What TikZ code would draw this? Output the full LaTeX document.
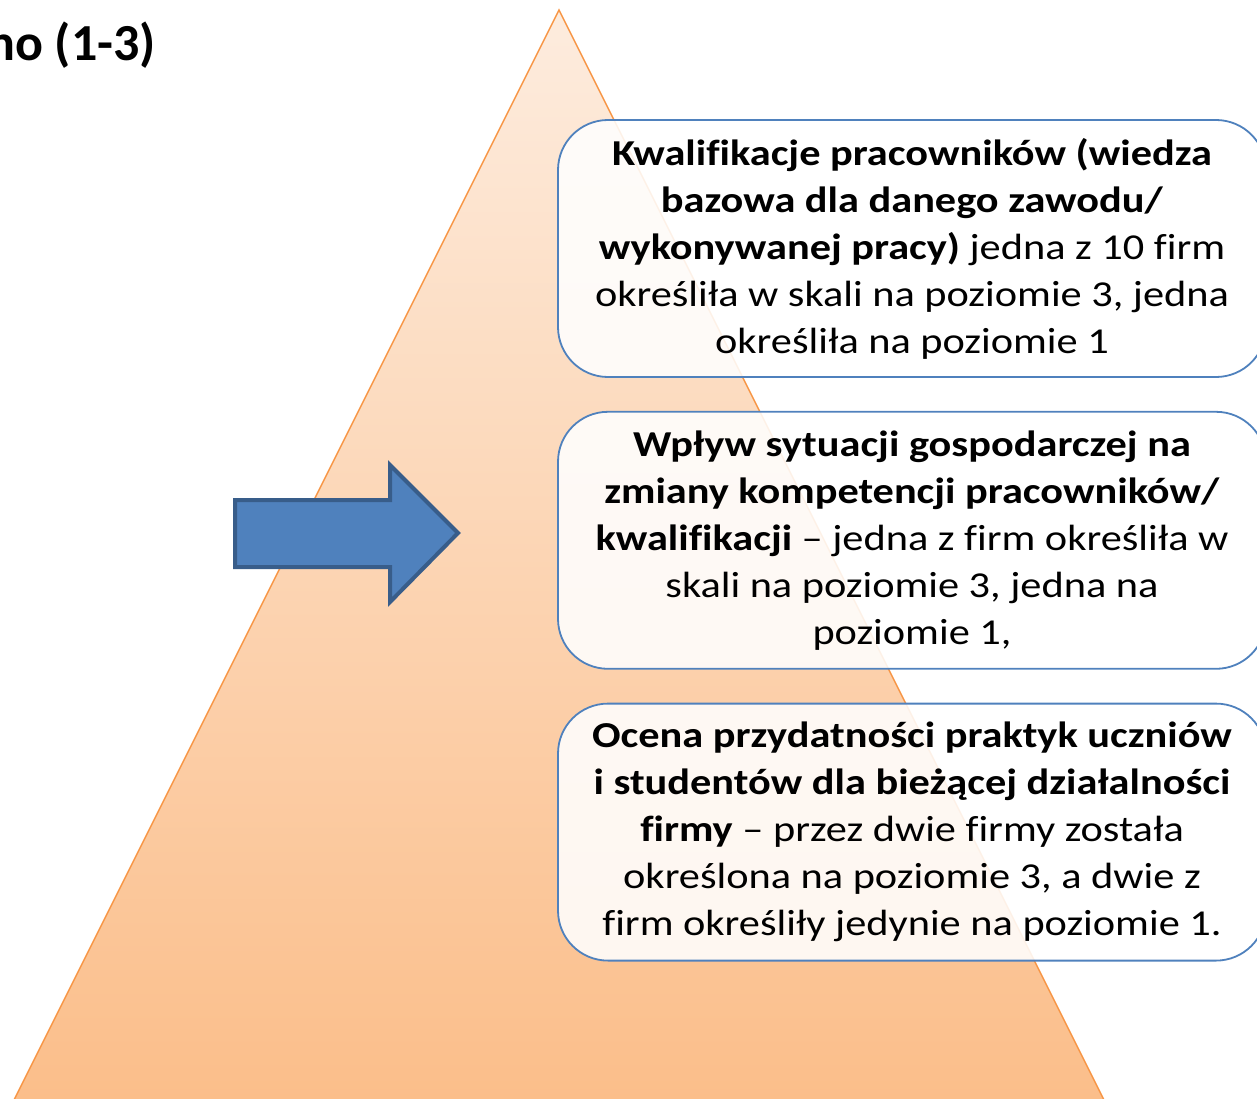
\documentclass[tikz,border=0pt]{standalone}
\usepackage{fontspec}
\setmainfont{Carlito}[FakeStretch=1.16, Ligatures=CommonOff]
\newfontfamily\titlefont{Carlito}
\usetikzlibrary{positioning}

\definecolor{pyrline}{RGB}{247,150,70}
\definecolor{pyrtop}{RGB}{253,236,222}
\definecolor{pyrbottom}{RGB}{251,190,138}
\definecolor{boxline}{RGB}{79,129,189}
\definecolor{arrowfill}{RGB}{79,129,189}
\definecolor{arrowline}{RGB}{56,93,138}

\begin{document}
\begin{tikzpicture}
        [
            x=1pt, y=-1pt,
            pyramid/.style={draw=pyrline, line width=1.5pt, top color=pyrtop, bottom color=pyrbottom},
            infobox/.style={draw=boxline, line width=1.8pt, fill=white, fill opacity=0.87, text opacity=1,
                rounded corners=50pt, minimum width=708pt, minimum height=257pt, inner sep=0pt,
                align=center, font=\fontsize{36.5}{47}\selectfont},
            bigarrow/.style={draw=arrowline, line width=4pt, fill=arrowfill, line join=miter},
            title/.style={font=\titlefont\bfseries\fontsize{52}{60}\selectfont, inner sep=0pt},
        ]
        \useasboundingbox (0,0) rectangle (1257,1099);
        \clip (0,0) rectangle (1257,1099);

        % pyramid
        \draw[pyramid] (559,10) -- (1104,1100) -- (14,1100) -- cycle;

        % title (cut off at the left)
        \node[title, anchor=base east] (title) at (156,61) {no (1-3)};

        % arrow
        \draw[bigarrow] (235,500) -- (390,500) -- (390,465) -- (458,533)
            -- (390,602) -- (390,567) -- (235,567) -- cycle;

        % boxes
        \node[infobox] (kwal) at (912,248.5)
            {\textbf{Kwalifikacje pracowników (wiedza}\\
             \textbf{bazowa dla danego zawodu/}\\
             \textbf{wykonywanej pracy)} jedna z 10 firm\\
             określiła w skali na poziomie 3, jedna\\
             określiła na poziomie 1};
        \node[infobox, below=33pt of kwal] (wplyw)
            {\textbf{Wpływ sytuacji gospodarczej na}\\
             \textbf{zmiany kompetencji pracowników/}\\
             \textbf{kwalifikacji} -- jedna z firm określiła w\\
             skali na poziomie 3, jedna na\\
             poziomie 1,};
        \node[infobox, below=33pt of wplyw] (ocena)
            {\textbf{Ocena przydatności praktyk uczniów}\\
             \textbf{i studentów dla bieżącej działalności}\\
             \textbf{firmy} -- przez dwie firmy została\\
             określona na poziomie 3, a dwie z\\
             firm określiły jedynie na poziomie 1.};
    \end{tikzpicture}
\end{document}
